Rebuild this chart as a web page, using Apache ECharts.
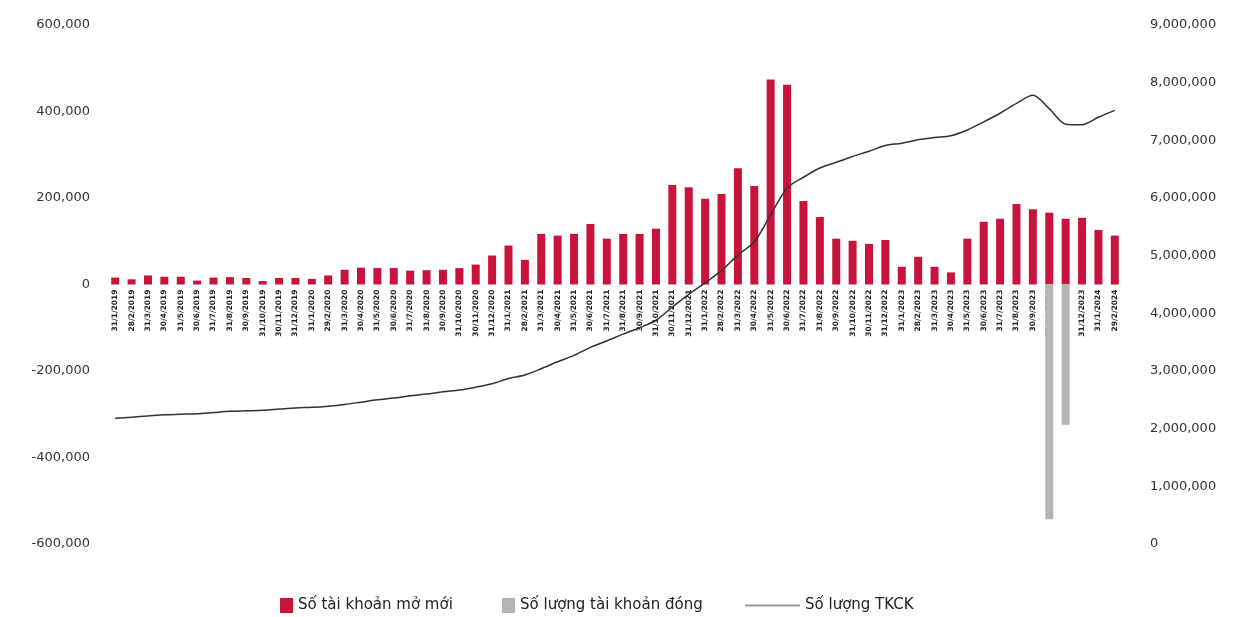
<!DOCTYPE html>
<html>
<head>
<meta charset="utf-8">
<script src="https://cdn.jsdelivr.net/npm/echarts@6/dist/echarts.min.js"></script>
<style>
  html, body { margin: 0; padding: 0; background: #fff; }
  #chart { width: 1243px; height: 617px; }
</style>
</head>
<body>
<div id="chart"></div>
<script>
// Month-end reporting dates
const months = [
  "31/1/2019","28/2/2019","31/3/2019","30/4/2019","31/5/2019","30/6/2019","31/7/2019","31/8/2019","30/9/2019","31/10/2019","30/11/2019","31/12/2019",
  "31/1/2020","29/2/2020","31/3/2020","30/4/2020","31/5/2020","30/6/2020","31/7/2020","31/8/2020","30/9/2020","31/10/2020","30/11/2020","31/12/2020",
  "31/1/2021","28/2/2021","31/3/2021","30/4/2021","31/5/2021","30/6/2021","31/7/2021","31/8/2021","30/9/2021","31/10/2021","30/11/2021","31/12/2021",
  "31/1/2022","28/2/2022","31/3/2022","30/4/2022","31/5/2022","30/6/2022","31/7/2022","31/8/2022","30/9/2022","31/10/2022","30/11/2022","31/12/2022",
  "31/1/2023","28/2/2023","31/3/2023","30/4/2023","31/5/2023","30/6/2023","31/7/2023","31/8/2023","30/9/2023","31/10/2023","30/11/2023","31/12/2023",
  "31/1/2024","29/2/2024"
];

// New accounts opened per month
const newAccounts = [
  16000,12000,21000,18000,18000,9000,16000,17000,15000,8000,15000,15000,
  13000,21000,34000,39000,38000,38000,32000,33000,34000,38000,46000,67000,
  90000,57000,117000,113000,117000,140000,106000,117000,117000,129000,230000,225000,
  198000,209000,269000,228000,474000,462000,193000,156000,106000,101000,94000,103000,
  41000,64000,41000,28000,106000,145000,152000,186000,174000,166000,152000,154000,
  126000,113000
];

// Accounts closed per month (negative)
const closedAccounts = [
  0,0,0,0,0,0,0,0,0,0,0,0,
  0,0,0,0,0,0,0,0,0,0,0,0,
  0,0,0,0,0,0,0,0,0,0,0,0,
  0,0,0,0,0,0,0,0,0,0,0,0,
  0,0,0,0,0,0,0,0,0,-543000,-324000,0,
  0,0
];

// Total securities accounts
const totalAccounts = [
  2180000,2200000,2220000,2240000,2250000,2260000,2280000,2300000,2310000,2320000,2340000,2360000,
  2370000,2390000,2420000,2460000,2500000,2530000,2570000,2600000,2640000,2670000,2720000,2780000,
  2870000,2930000,3040000,3160000,3270000,3410000,3520000,3640000,3750000,3880000,4110000,4330000,
  4530000,4740000,5010000,5240000,5710000,6170000,6360000,6520000,6620000,6720000,6810000,6910000,
  6950000,7010000,7050000,7080000,7180000,7320000,7470000,7640000,7780000,7550000,7280000,7270000,
  7400000,7520000
];

const leftTicks = { min: -600000, max: 600000, step: 200000 };
const rightTicks = { min: 0, max: 9000000, step: 1000000 };

const NAME_NEW = "Số tài khoản mở mới";
const NAME_CLOSED = "Số lượng tài khoản đóng";
const NAME_TOTAL = "Số lượng TKCK";

const fmt = v => Number(v).toLocaleString('en-US');
const labelStyle = { color: '#333', fontSize: 13, fontFamily: 'DejaVu Sans' };
const legendText = { color: '#222', fontSize: 15, fontFamily: 'DejaVu Sans' };

// Plot area; the category axis sits on the zero line of the left axis
const gridTop = 25, gridBottom = 73, chartHeight = 617;
const plotHeight = chartHeight - gridTop - gridBottom;
const zeroLift = plotHeight * (0 - leftTicks.min) / (leftTicks.max - leftTicks.min);

const chart = echarts.init(document.getElementById('chart'), null, { renderer: 'canvas' });
chart.setOption({
  animation: false,
  backgroundColor: '#ffffff',
  grid: { left: 107, right: 120, top: gridTop, bottom: gridBottom },
  legend: [
    { data: [NAME_NEW], left: 275, top: 593, icon: 'rect', itemWidth: 13, itemHeight: 15, textStyle: legendText },
    { data: [NAME_CLOSED], left: 497, top: 593, icon: 'rect', itemWidth: 13, itemHeight: 15, textStyle: legendText },
    { data: [{ name: NAME_TOTAL, icon: 'rect', itemStyle: { color: '#999' } }], left: 740, top: 593, itemWidth: 55, itemHeight: 2, textStyle: legendText }
  ],
  xAxis: {
    type: 'category',
    data: months,
    position: 'bottom',
    offset: -zeroLift,
    axisLine: { show: false, onZero: false },
    axisTick: { show: false },
    axisLabel: { rotate: 90, interval: 0, fontSize: 7.5, fontWeight: 'bold', color: '#222', margin: 5, fontFamily: 'DejaVu Sans' }
  },
  yAxis: [
    {
      type: 'value', min: leftTicks.min, max: leftTicks.max, interval: leftTicks.step,
      splitLine: { show: false }, axisLine: { show: false }, axisTick: { show: false },
      axisLabel: Object.assign({ formatter: fmt, margin: 17 }, labelStyle)
    },
    {
      type: 'value', min: rightTicks.min, max: rightTicks.max, interval: rightTicks.step,
      splitLine: { show: false }, axisLine: { show: false }, axisTick: { show: false },
      axisLabel: Object.assign({ formatter: fmt, margin: 27 }, labelStyle)
    }
  ],
  series: [
    {
      name: NAME_NEW, type: 'bar', stack: 'flow', barWidth: 8,
      itemStyle: { color: '#c8143c' },
      data: newAccounts
    },
    {
      name: NAME_CLOSED, type: 'bar', stack: 'flow', barWidth: 8,
      itemStyle: { color: '#b5b5b5' },
      data: closedAccounts
    },
    {
      name: NAME_TOTAL, type: 'line', yAxisIndex: 1, showSymbol: false, smooth: 0.3,
      lineStyle: { color: '#333', width: 1.5 },
      itemStyle: { color: '#333' },
      data: totalAccounts
    }
  ]
});
</script>
</body>
</html>
